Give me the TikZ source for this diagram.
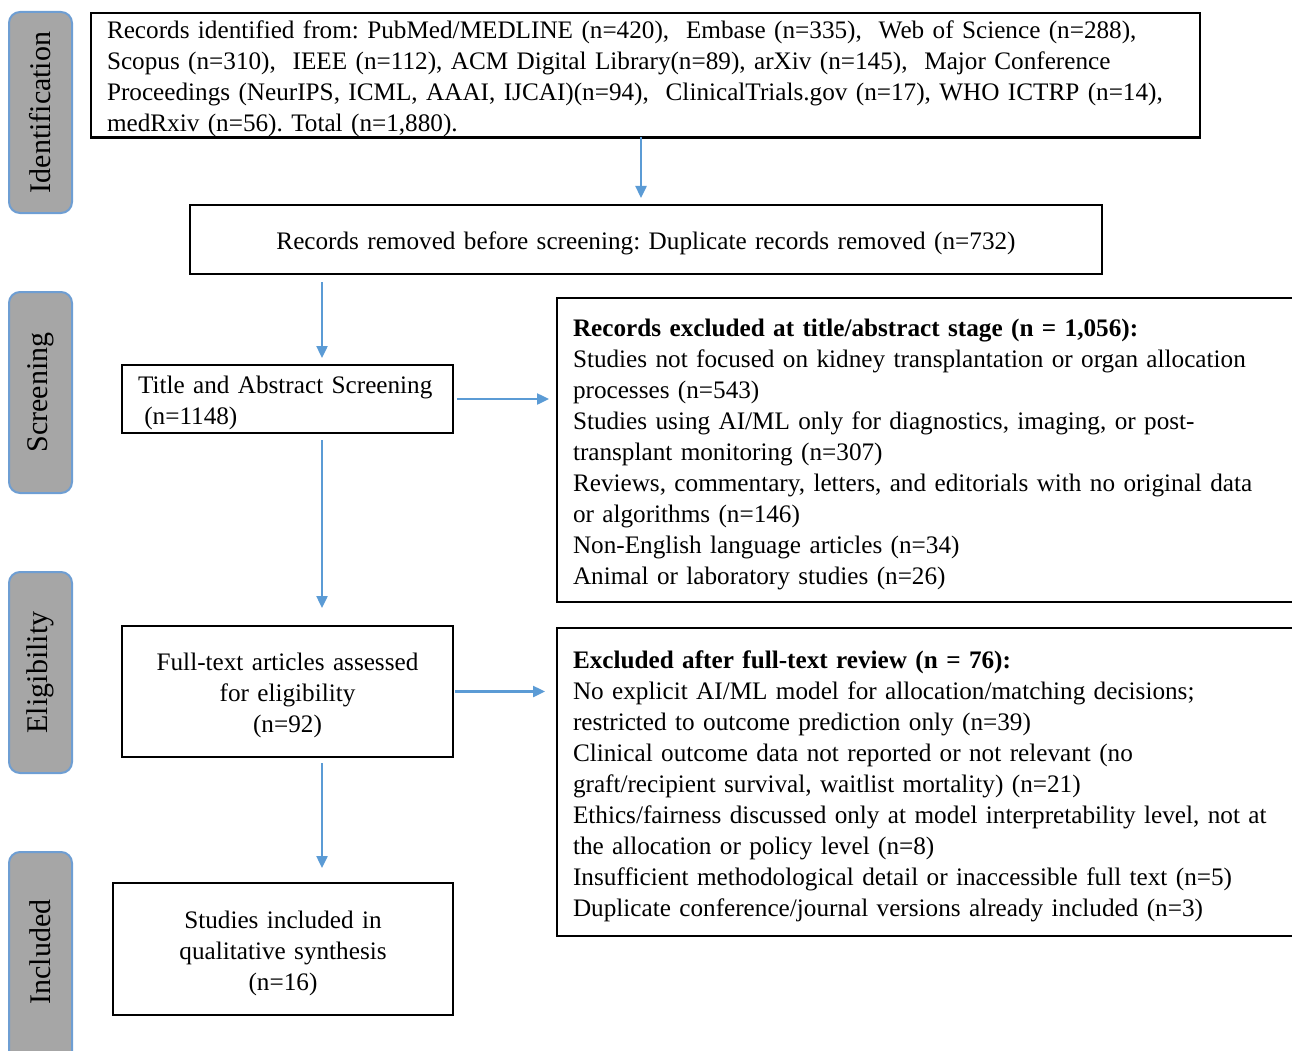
\documentclass[tikz,border=0pt]{standalone}
\usepackage{fontspec}
\setmainfont{Liberation Serif}
\usetikzlibrary{arrows.meta,calc}
\definecolor{arrowblue}{HTML}{5B9BD5}
\definecolor{sidefill}{HTML}{A6A6A6}
\definecolor{sideedge}{HTML}{6E9ED3}
\frenchspacing
\hyphenpenalty=10000
\exhyphenpenalty=10000
\begin{document}
\begin{tikzpicture}[x=1pt,y=-1pt,
  boxbase/.style={draw=black,line width=2.4pt,inner ysep=0pt,outer sep=0pt,anchor=north west,
    font=\fontsize{25.2}{31}\selectfont,
    execute at begin node={\rule{0pt}{26pt}}},
  leftbox/.style n args={2}{boxbase,minimum width=#1,minimum height=#2,inner xsep=16pt,
    text width=#1-32pt,align=left},
  centerbox/.style n args={2}{boxbase,minimum width=#1,minimum height=#2,inner xsep=4pt,
    text width=#1-8pt,align=center},
  sidebox/.style={fill=sidefill,draw=sideedge,line width=2pt,rounded corners=11pt},
  sidetext/.style={rotate=90,font=\fontsize{30}{36}\selectfont,inner sep=0pt},
  arr/.style={draw=arrowblue,line width=2.4pt,-{Triangle[length=12pt,width=11pt]}}
]
\useasboundingbox (0,0) rectangle (1292,1051);

% phase labels
\draw[sidebox] (9,12) rectangle (72,213);
\node[sidetext] (lid) at (40.5,112.5) {Identification};
\draw[sidebox] (9,292) rectangle (72,493);
\node[sidetext] (lsc) at (40.5,392.5) {Screening};
\draw[sidebox] (9,572) rectangle (72,773);
\node[sidetext] (lel) at (40.5,672.5) {Eligibility};
\draw[sidebox] (9,852) rectangle (72,1090);
\node[sidetext] (lin) at (40.5,952) {Included};

% boxes
\node[leftbox={1109pt}{124pt}] (top) at (91,13) {Records identified from: PubMed/MEDLINE (n=420), \ Embase (n=335), \ Web of Science (n=288),\\
Scopus (n=310), \ IEEE (n=112), ACM Digital Library(n=89), arXiv (n=145), \ Major Conference\\
Proceedings (NeurIPS, ICML, AAAI, IJCAI)(n=94), \ ClinicalTrials.gov (n=17), WHO ICTRP (n=14),\\
medRxiv (n=56). Total (n=1,880).};

\node[centerbox={912pt}{69pt}] (dup) at (190,205) {Records removed before screening: Duplicate records removed (n=732)};

\node[leftbox={331pt}{68pt}] (title) at (122,365) {Title and Abstract Screening\\
\hspace{0.25em}(n=1148)};

\node[leftbox={736pt}{304pt}] (ex1) at (557,298) {\textbf{Records excluded at title/abstract stage (n = 1,056):}\\
Studies not focused on kidney transplantation or organ allocation\\
processes (n=543)\\
Studies using AI/ML only for diagnostics, imaging, or post-\\
transplant monitoring (n=307)\\
Reviews, commentary, letters, and editorials with no original data\\
or algorithms (n=146)\\
Non-English language articles (n=34)\\
Animal or laboratory studies (n=26)};

\node[centerbox={331pt}{131pt}] (full) at (122,626) {Full-text articles assessed\\
for eligibility\\
(n=92)};

\node[leftbox={736pt}{308pt}] (ex2) at (557,628) {\textbf{Excluded after full-text review (n = 76):}\\
No explicit AI/ML model for allocation/matching decisions;\\
restricted to outcome prediction only (n=39)\\
Clinical outcome data not reported or not relevant (no\\
graft/recipient survival, waitlist mortality) (n=21)\\
Ethics/fairness discussed only at model interpretability level, not at\\
the allocation or policy level (n=8)\\
Insufficient methodological detail or inaccessible full text (n=5)\\
Duplicate conference/journal versions already included (n=3)};

\node[centerbox={340pt}{132pt}] (incl) at (113,883) {Studies included in\\
qualitative synthesis\\
(n=16)};

% connectors
\coordinate (ax1) at (641,0);
\coordinate (ax2) at (322,0);
\draw[arr,shorten >=7pt] (top.south -| ax1) -- (dup.north -| ax1);
\draw[arr,shorten <=8pt,shorten >=7pt] (dup.south -| ax2) -- (title.north -| ax2);
\draw[arr,shorten <=4pt,shorten >=8pt] (title.east) -- (ex1.west |- title.east);
\draw[arr,shorten <=7pt,shorten >=18pt] (title.south -| ax2) -- (full.north -| ax2);
\draw[arr,shorten <=2pt,shorten >=12pt] (full.east) -- (ex2.west |- full.east);
\draw[arr,shorten <=6pt,shorten >=15pt] (full.south -| ax2) -- (incl.north -| ax2);
\end{tikzpicture}
\end{document}
